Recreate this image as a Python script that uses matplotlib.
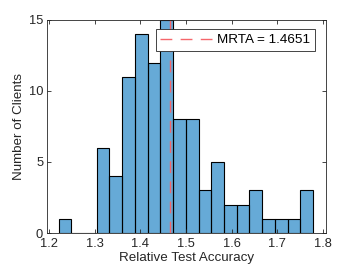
import numpy as np
import matplotlib
matplotlib.use('Agg')
import matplotlib.pyplot as plt

# histogram counts
counts = [1, 0, 0, 6, 4, 11, 14, 12, 15, 8, 8, 3, 5, 2, 2, 3, 1, 1, 1, 3]
bin_start = 1.2205
bin_width = 0.0279
mrta = 1.4651

edges = bin_start + bin_width * np.arange(len(counts) + 1)

plt.rcParams['font.family'] = ['Liberation Sans', 'DejaVu Sans']

fig = plt.figure(figsize=(3.6, 2.7), dpi=100)
ax = fig.add_axes([0.1297, 0.137, 0.9056 - 0.1297, 0.926 - 0.137])

ax.stairs(counts, edges, fill=True, facecolor=(0.4, 0.668, 0.845),
          edgecolor='none')
ax.bar(edges[:-1], counts, width=bin_width, align='edge', facecolor='none',
       edgecolor='black', linewidth=0.8)
ax.axvline(mrta, color=(0.96, 0.4, 0.42), linestyle=(0, (8.5, 6)),
           linewidth=1.0, label='MRTA = 1.4651')

ax.set_xlim(1.1945, 1.807)
ax.set_ylim(0, 15)
ax.set_xticks([1.2, 1.3, 1.4, 1.5, 1.6, 1.7, 1.8])
ax.set_yticks([0, 5, 10, 15])
ax.tick_params(direction='in', top=True, right=True, length=3, width=0.6,
               labelsize=9.3, colors=(0.15, 0.15, 0.15))
ax.tick_params(axis='x', pad=3.5)
ax.tick_params(axis='y', pad=2.5)
for s in ax.spines.values():
    s.set_color((0.15, 0.15, 0.15))
    s.set_linewidth(0.6)

ax.set_xlabel('Relative Test Accuracy', fontsize=9.6, color=(0.15, 0.15, 0.15), labelpad=1.5)
ax.set_ylabel('Number of Clients', fontsize=9.6, color=(0.15, 0.15, 0.15), labelpad=3)

leg = ax.legend(loc='upper right', bbox_to_anchor=(0.9596, 0.9563),
                borderaxespad=0, fontsize=9.7, fancybox=False, framealpha=1,
                edgecolor=(0.15, 0.15, 0.15), handlelength=3.8,
                borderpad=0.35, handletextpad=0.4)
leg.get_frame().set_linewidth(0.6)

fig.savefig('out.png', dpi=100)
